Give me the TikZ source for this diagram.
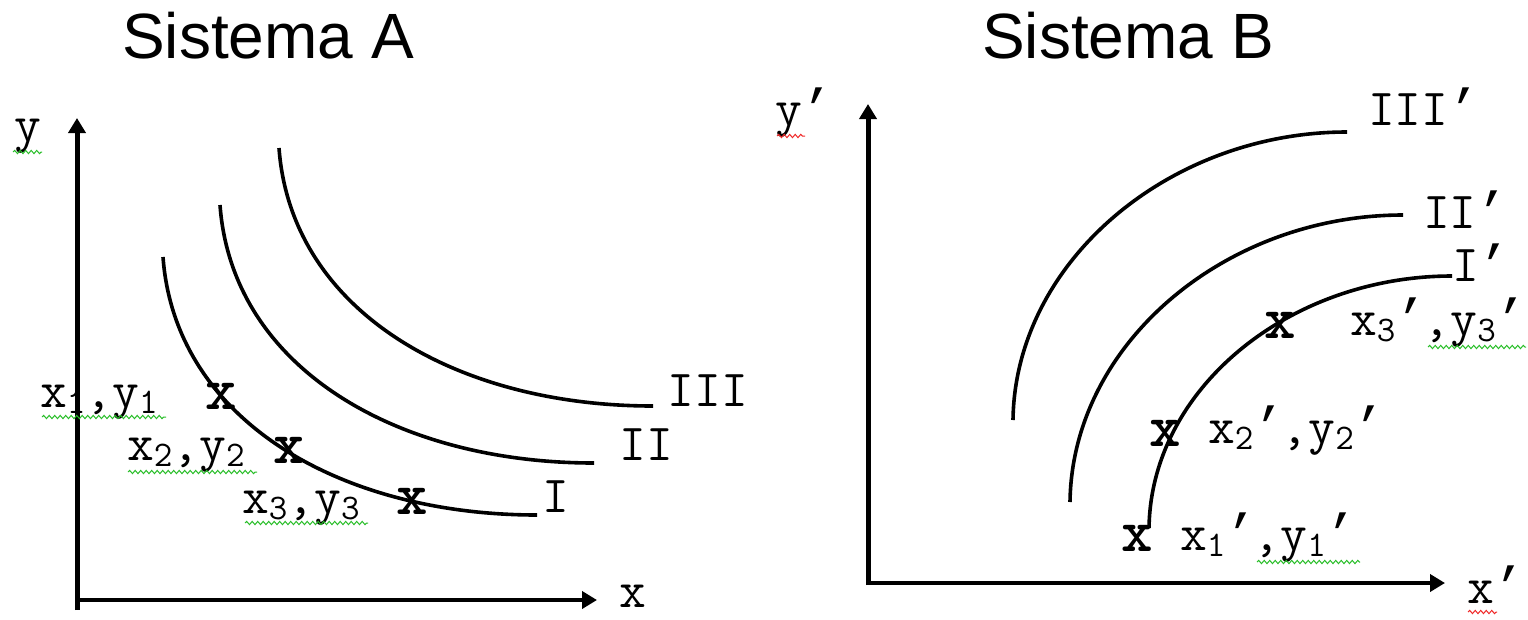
\documentclass[tikz,border=0pt]{standalone}
\usepackage{fontspec}
\setsansfont{Liberation Sans}
\newfontfamily\prfont{Liberation Mono}
\usetikzlibrary{arrows.meta,decorations.pathmorphing}
\newcommand{\lbsub}[1]{{\fontsize{36}{36}\selectfont\raisebox{-6pt}{#1}}}
\newcommand{\pr}{{\prfont ’}\kern-3pt}
\tikzset{
  axis/.style={line width=5pt, draw=black, -{Triangle[length=15pt,width=17pt]}},
  curve/.style={line width=3.6pt, draw=black},
  lbl/.style={inner sep=0pt, font=\fontsize{52}{52}\selectfont\ttfamily, anchor=base west},
  mk/.style={inner sep=0pt, font=\fontsize{60}{60}\selectfont\ttfamily\bfseries, anchor=center},
  ttl/.style={inner sep=0pt, font=\fontsize{64}{64}\selectfont\sffamily, anchor=base},
  sqg/.style={line width=1pt, decorate, decoration={snake, amplitude=1.6pt, segment length=5.5pt}},
  sqgreen/.style={sqg, draw={rgb,255:red,40;green,190;blue,40}},
  sqred/.style={sqg, draw={rgb,255:red,240;green,40;blue,40}}
}
\begin{document}
\begin{tikzpicture}[x=1pt,y=-1pt]
\useasboundingbox (0,0) rectangle (1528,619);
\fill[white] (0,0) rectangle (1528,619);

% titles
\node[ttl] (tA) at (268,58) {Sistema A};
\node[ttl] (tB) at (1128,58) {Sistema B};

% ---------- System A ----------
\coordinate (oA) at (77,610);
\coordinate (oAx) at (77,600);
\coordinate (yAt) at (77,118);
\coordinate (xAt) at (597,600);
\draw[axis] (oA) -- (yAt);
\draw[axis, line width=4.5pt] (oAx) -- (xAt);
\node[lbl, anchor=base] (ly) at (28,141) {y};
\node[lbl, anchor=base] (lx) at (633,607) {x};

\coordinate (a1s) at (163,257);
\coordinate (a1e) at (537,515);
\coordinate (a2s) at (220,205);
\coordinate (a2e) at (594,463);
\coordinate (a3s) at (279,148);
\coordinate (a3e) at (653,406);
\draw[curve] (a1s) .. controls +(12,163) and +(-197,0) .. (a1e);
\draw[curve] (a2s) .. controls +(12,163) and +(-197,0) .. (a2e);
\draw[curve] (a3s) .. controls +(12,163) and +(-197,0) .. (a3e);

\node[lbl, anchor=base] (cI) at (556,512) {I};
\node[lbl, anchor=base] (cII) at (646,460) {II};
\node[lbl, anchor=base] (cIII) at (708,406) {III};

\node[mk] (m1) at (221,396) {x};
\node[mk] (m2) at (289,450) {x};
\node[mk] (m3) at (412,501) {x};

\node[lbl] (p1) at (40,407) {x\lbsub{1},y\lbsub{1}};
\node[lbl] (p2) at (127,460) {x\lbsub{2},y\lbsub{2}};
\node[lbl] (p3) at (242,513) {x\lbsub{3},y\lbsub{3}};

\draw[sqgreen] (13,152) -- (42,152);
\draw[sqgreen] (42,417) -- (166,417);
\draw[sqgreen] (128,472) -- (257,472);
\draw[sqgreen] (245,523) -- (368,523);

% ---------- System B ----------
\coordinate (oB) at (868,585);
\coordinate (yBt) at (868,104);
\coordinate (xBt) at (1445,583);
\draw[axis] (oB) -- (yBt);
\draw[axis, line width=4.5pt] (oB |- xBt) -- (xBt);
\node[lbl] (lyp) at (775,125) {y\pr};
\node[lbl] (lxp) at (1467,603) {x\pr};

\coordinate (b1s) at (1149,528);
\coordinate (b1e) at (1452,276);
\coordinate (b2s) at (1070,502);
\coordinate (b2e) at (1403,215);
\coordinate (b3s) at (1013,420);
\coordinate (b3e) at (1347,132);
\draw[curve] (b1s) .. controls +(2,-140) and +(-162,0) .. (b1e);
\draw[curve] (b2s) .. controls +(2,-158) and +(-178,0) .. (b2e);
\draw[curve] (b3s) .. controls +(2,-158) and +(-178,0) .. (b3e);

\node[lbl] (cIp) at (1452,281) {I\pr};
\node[lbl] (cIIp) at (1423,228) {II\pr};
\node[lbl] (cIIIp) at (1368,125) {III\pr};

\node[mk] (n1) at (1137,538) {x};
\node[mk] (n2) at (1165,433) {x};
\node[mk] (n3) at (1280,325) {x};

\node[lbl] (q1) at (1180,550) {x\lbsub{1}\pr,y\lbsub{1}\pr};
\node[lbl] (q2) at (1208,443) {x\lbsub{2}\pr,y\lbsub{2}\pr};
\node[lbl] (q3) at (1350,335) {x\lbsub{3}\pr,y\lbsub{3}\pr};

\draw[sqred] (777,136) -- (805,136);
\draw[sqred] (1468,612) -- (1497,612);
\draw[sqgreen] (1428,347) -- (1526,347);
\draw[sqgreen] (1257,562) -- (1360,562);
\end{tikzpicture}
\end{document}
